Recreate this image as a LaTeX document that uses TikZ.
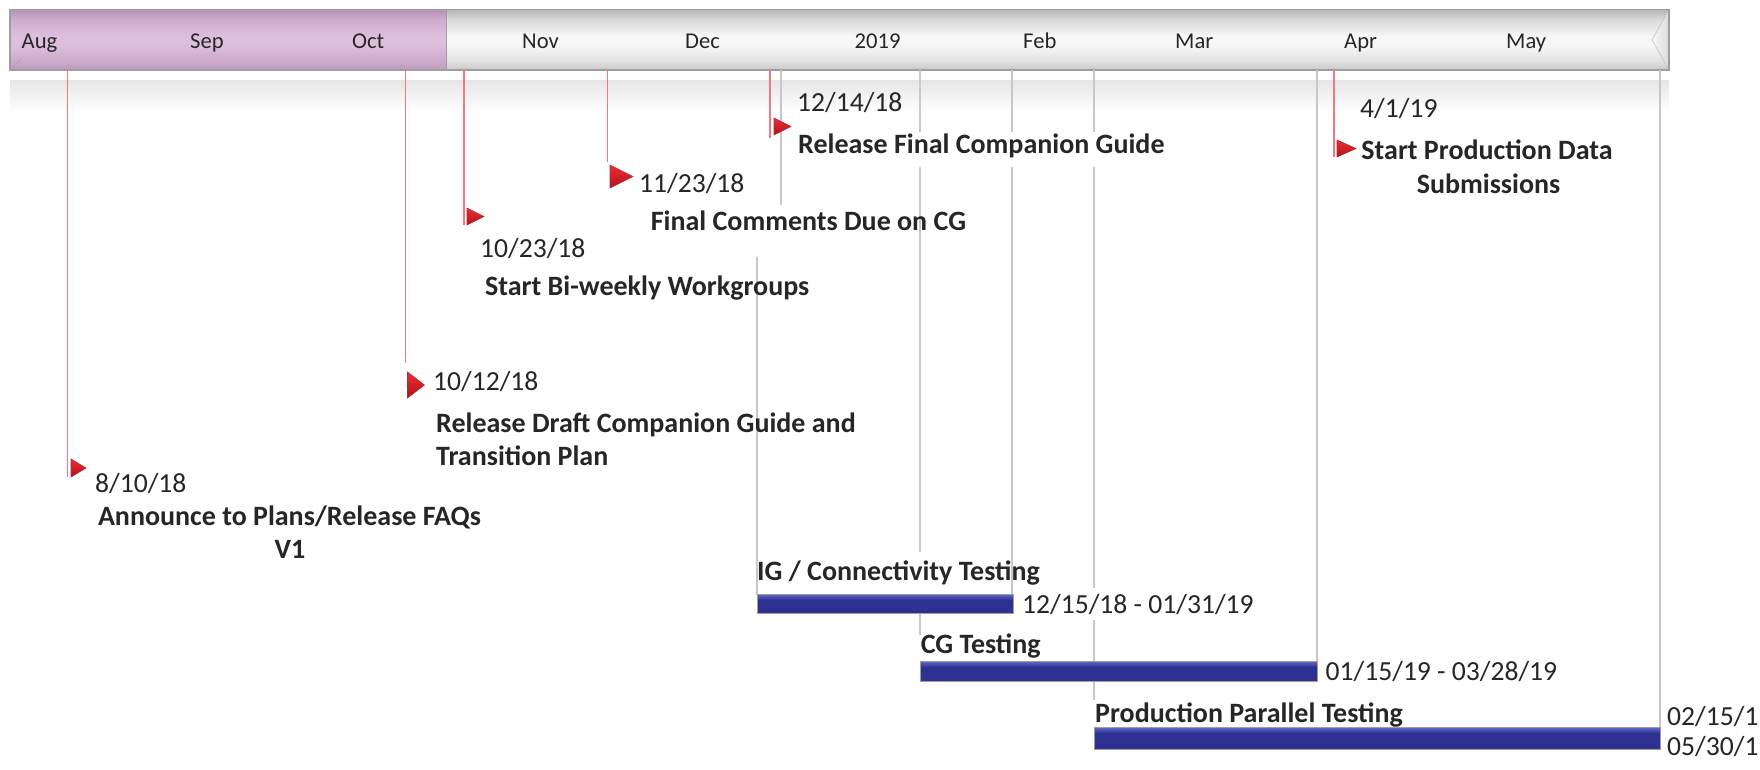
\documentclass[tikz,border=0pt]{standalone}
\usepackage{fontspec}
\setmainfont{Carlito}
\definecolor{txt}{RGB}{38,38,38}
\definecolor{pinkc}{RGB}{240,120,128}
\definecolor{grayc}{RGB}{200,200,200}
\definecolor{barborder}{RGB}{158,158,158}
\definecolor{g0}{RGB}{180,180,180}
\definecolor{g1}{RGB}{218,218,218}
\definecolor{g2}{RGB}{248,248,248}
\definecolor{g3}{RGB}{246,246,246}
\definecolor{g4}{RGB}{226,226,226}
\definecolor{g5}{RGB}{200,200,200}
\definecolor{p0}{RGB}{182,146,182}
\definecolor{p1}{RGB}{206,173,206}
\definecolor{p2}{RGB}{222,192,222}
\definecolor{p3}{RGB}{220,190,220}
\definecolor{p4}{RGB}{204,170,204}
\definecolor{p5}{RGB}{188,155,188}
\definecolor{navy}{RGB}{46,49,146}
\definecolor{navylight}{RGB}{98,108,206}
\definecolor{flagA}{RGB}{240,44,50}
\definecolor{flagB}{RGB}{176,18,28}
\pgfdeclareverticalshading{graybarshade}{100bp}{color(0bp)=(g5); color(25bp)=(g5); color(32.5bp)=(g4); color(45bp)=(g3); color(52.5bp)=(g2); color(66.5bp)=(g1); color(75bp)=(g0); color(100bp)=(g0)}
\pgfdeclareverticalshading{purplebarshade}{100bp}{color(0bp)=(p5); color(25bp)=(p5); color(32.5bp)=(p4); color(45bp)=(p3); color(52.5bp)=(p2); color(66.5bp)=(p1); color(75bp)=(p0); color(100bp)=(p0)}
\newcommand\tlflag[4]{%
  \shade[top color=flagA,bottom color=flagB,draw=flagB!70!gray,line width=0.6pt]
    (#1,#2) -- ({#1+#3},{#2+#4/2}) -- (#1,{#2+#4}) -- cycle;}
\newcommand\tlbar[4]{%
  \fill[navy] (#1,#2) rectangle (#3,#4);
  \shade[top color=navylight,bottom color=navy] (#1,#2) rectangle (#3,{#2+6});
  \draw[barborder,line width=1pt] (#1,#2) rectangle (#3,#4);}
\begin{document}
\begin{tikzpicture}[x=1pt,y=-1pt,
  datefont/.style={font=\fontsize{27.6}{32}\selectfont, text=txt, inner sep=0pt, anchor=base west},
  titlefont/.style={font=\fontsize{28}{33}\selectfont\bfseries, text=txt, inner sep=0pt, anchor=base west},
  titlemid/.style={titlefont, anchor=base},
  monthfont/.style={font=\fontsize{22.6}{27}\selectfont, text=txt, inner sep=0pt, anchor=base west},
  pinkline/.style={draw=pinkc, line width=1.6pt},
  grayline/.style={draw=grayc, line width=2pt},
]
\useasboundingbox (0,0) rectangle (1760,769);
\clip (0,0) rectangle (1760,769);
\fill[white] (0,0) rectangle (1760,769);

% shadow band below timeline
\shade[top color=gray!20, bottom color=white] (10,80) rectangle (1669,112);

% timeline bar
\shade[shading=graybarshade] (446,9.5) rectangle (1669,70);
\shade[shading=purplebarshade] (10,9.5) rectangle (446,70);
\shade[left color=g2, right color=g1] (1652,40) -- (1669,9.5) -- (1669,70) -- cycle;
\draw[g5, line width=0.8pt] (1652,40) -- (1669,9.5) (1652,40) -- (1669,70);
\draw[p4!80!black, line width=0.6pt, opacity=0.4] (10,70) -- (22,58);
\draw[barborder, line width=1.2pt] (10,9.5) rectangle (1669,70);
\draw[barborder, line width=1pt] (446,9.5) -- (446,70);

% month labels
\node[monthfont] (mAug) at (21.5,48) {Aug};
\node[monthfont] (mSep) at (190,48) {Sep};
\node[monthfont] (mOct) at (352,48) {Oct};
\node[monthfont] (mNov) at (522,48) {Nov};
\node[monthfont] (mDec) at (685,48) {Dec};
\node[monthfont] (m2019) at (854.5,48) {2019};
\node[monthfont] (mFeb) at (1023,48) {Feb};
\node[monthfont] (mMar) at (1175,48) {Mar};
\node[monthfont] (mApr) at (1344,48) {Apr};
\node[monthfont] (mMay) at (1506,48) {May};

% gray date lines
\draw[grayline] (781,70) -- (781,205);
\draw[grayline] (757,257) -- (757,595);
\draw[grayline] (920,70) -- (920,132) (920,167) -- (920,552) (920,613) -- (920,635);
\draw[grayline] (1012,70) -- (1012,132) (1012,167) -- (1012,595);
\draw[grayline] (1094,70) -- (1094,132) (1094,167) -- (1094,588) (1094,620) -- (1094,661) (1094,681) -- (1094,700);
\draw[grayline] (1317,70) -- (1317,661);
\draw[grayline] (1660,70) -- (1660,727);

% pink milestone lines
\draw[pinkline] (67.5,70) -- (67.5,477);
\draw[pinkline] (405.5,70) -- (405.5,363);
\draw[pinkline] (464,70) -- (464,225);
\draw[pinkline] (607.5,70) -- (607.5,162);
\draw[pinkline] (770,70) -- (770,138);
\draw[pinkline] (1334,70) -- (1334,157);

% flags
\tlflag{71}{459}{15}{18}
\tlflag{407.5}{372}{17}{26}
\tlflag{467}{208}{17}{17}
\tlflag{610}{165}{23}{23}
\tlflag{774}{118}{17}{17}
\tlflag{1337}{140}{19}{17}

% milestone texts
\node[datefont] (d1) at (95,492) {8/10/18};
\node[titlemid] (t1a) at (289.5,525) {Announce to Plans/Release FAQs};
\node[titlemid] (t1b) at (290,558) {V1};

\node[datefont] (d2) at (433,390) {10/12/18};
\node[titlefont] (t2a) at (436,432) {Release Draft Companion Guide and};
\node[titlefont] (t2b) at (436,465) {Transition Plan};

\node[datefont] (d3) at (480,257) {10/23/18};
\node[titlefont] (t3) at (485,295) {Start Bi-weekly Workgroups};

\node[datefont] (d4) at (639,192) {11/23/18};
\node[titlefont] (t4) at (650.6,230) {Final Comments Due on CG};

\node[datefont] (d5) at (797,111.7) {12/14/18};
\node[titlefont] (t5) at (798,153) {Release Final Companion Guide};

\node[datefont] (d6) at (1360,117) {4/1/19};
\node[titlemid] (t6a) at (1487,159) {Start Production Data};
\node[titlemid] (t6b) at (1488.5,193) {Submissions};

% task bars
\tlbar{757}{594}{1013}{613}
\tlbar{920}{661}{1317}{681}
\tlbar{1094}{727}{1660}{749}

\node[titlefont] (b1t) at (757,580) {IG / Connectivity Testing};
\node[datefont] (b1d) at (1022,613) {12/15/18 - 01/31/19};
\node[titlefont] (b2t) at (920.6,653) {CG Testing};
\node[datefont] (b2d) at (1325.5,680) {01/15/19 - 03/28/19};
\node[titlefont] (b3t) at (1095,722) {Production Parallel Testing};
\node[datefont] (b3d) at (1667,725) {02/15/19 -};
\node[datefont] (b3e) at (1667,755) {05/30/19};
\end{tikzpicture}
\end{document}
